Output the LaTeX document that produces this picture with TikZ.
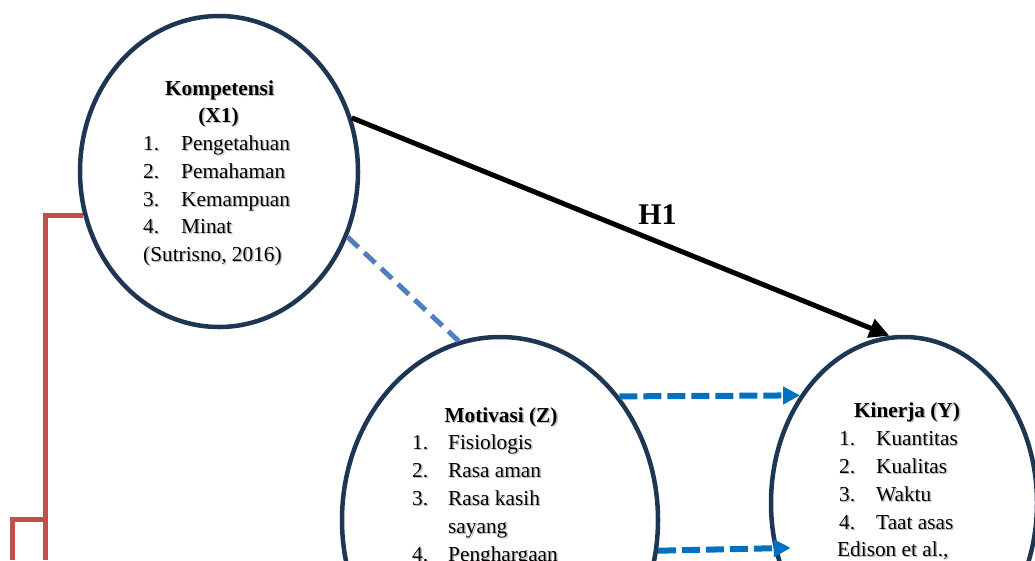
\documentclass[tikz,border=0pt]{standalone}
\usepackage{fontspec}
\setmainfont{Liberation Serif}
\usetikzlibrary{shapes.geometric,arrows.meta}

\definecolor{navy}{HTML}{1E3554}
\definecolor{lightblue}{HTML}{4F81BD}
\definecolor{strongblue}{HTML}{0070C0}
\definecolor{brickred}{HTML}{C0504D}
\definecolor{shade}{gray}{0.75}

\tikzset{
  oval/.style={ellipse, draw=navy, line width=4.5pt, inner sep=0pt},
  txt/.style={inner sep=0pt, font=\fontsize{21.3}{28}\selectfont},
  hd/.style={txt, font=\fontsize{21.3}{28}\selectfont\bfseries, anchor=base},
  it/.style={txt, anchor=base west},
  effect/.style={black, line width=5pt, -{Triangle[length=20pt, width=19pt]}},
  link/.style={lightblue, line width=5pt, dash pattern=on 15pt off 8pt},
  mediate/.style={strongblue, line width=6pt, dash pattern=on 18pt off 6pt,
    -{Triangle[length=17pt, width=17pt]}},
  bracket/.style={brickred, line width=5pt}
}

% text with a soft drop shadow: name, style, position, content
\newcommand\shadowed[4]{%
  \node[#2, text=shade] at ([shift={(1.4,1.4)}]#3) {#4};
  \node[#2] (#1) at (#3) {#4};}
\newcommand\numbered[2]{\makebox[#1pt][l]{#2}}

\begin{document}
\begin{tikzpicture}[x=1pt, y=-1pt]
\useasboundingbox (0,0) rectangle (1035,560);
\clip (0,0) rectangle (1035,560);

% constructs
\node[oval, minimum width=278pt, minimum height=311pt] (k) at (219,171.5) {};
\node[oval, minimum width=316pt, minimum height=366pt] (m) at (500,520) {};
\node[oval, minimum width=266pt, minimum height=332pt] (y) at (904,503) {};

% Kompetensi (X1)
\shadowed{k1}{hd}{219.5,95}{Kompetensi}
\shadowed{k2}{hd}{218.5,122}{(X1)}
\shadowed{k3}{it}{143,150}{\numbered{38}{1.}Pengetahuan}
\shadowed{k4}{it}{143,178}{\numbered{38}{2.}Pemahaman}
\shadowed{k5}{it}{143,206}{\numbered{38}{3.}Kemampuan}
\shadowed{k6}{it}{143,233.5}{\numbered{38}{4.}Minat}
\shadowed{k7}{it}{143,261}{(Sutrisno, 2016)}

% Motivasi (Z)
\shadowed{m1}{hd}{501,422.5}{Motivasi (Z)}
\shadowed{m2}{it}{412,449.5}{\numbered{36}{1.}Fisiologis}
\shadowed{m3}{it}{412,477.5}{\numbered{36}{2.}Rasa aman}
\shadowed{m4}{it}{412,505.5}{\numbered{36}{3.}Rasa kasih}
\shadowed{m5}{it}{448,533.5}{sayang}
\shadowed{m6}{it}{412,561.5}{\numbered{36}{4.}Penghargaan}

% Kinerja (Y)
\shadowed{y1}{hd}{907,417}{Kinerja (Y)}
\shadowed{y2}{it}{839,445}{\numbered{37}{1.}Kuantitas}
\shadowed{y3}{it}{839,473}{\numbered{37}{2.}Kualitas}
\shadowed{y4}{it}{839,501}{\numbered{37}{3.}Waktu}
\shadowed{y5}{it}{839,529}{\numbered{37}{4.}Taat asas}
\shadowed{y6}{it}{837,556.5}{Edison et al.,}

% paths
\draw[effect] (k.22.7) -- (y.95);
\node[font=\fontsize{30}{34}\selectfont\bfseries, anchor=base, inner sep=0pt] (h1) at (657.5,224) {H1};
\draw[link] (k.-27.1) -- (m.103);
\draw[mediate] (m.46.2) -- (y.134.5);
\draw[mediate] (m.-11.8) -- ([xshift=17pt]y.199.4);

% bracket on the left
\coordinate (r1) at (45,560);
\coordinate (rj) at (45,519);
\coordinate (r2) at (12,560);
\draw[bracket] (k.198.5) -| (r1);
\draw[bracket] (rj) -| (r2);
\end{tikzpicture}
\end{document}
